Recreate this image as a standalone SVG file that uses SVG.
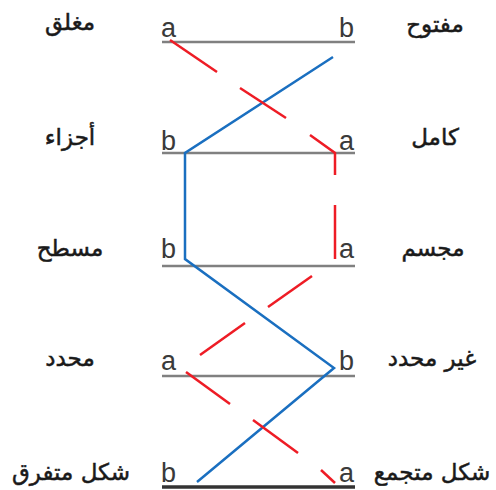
<svg xmlns="http://www.w3.org/2000/svg" width="496" height="490" viewBox="0 0 496 490">
<style>
.ar{font-family:"DejaVu Sans",sans-serif;font-size:23px;fill:#1a1a1a;stroke:#1a1a1a;stroke-width:0.5;text-anchor:middle}
.lt{font-family:"Liberation Sans",Arial,sans-serif;font-size:27px;fill:#3a3a3a}
.bar{stroke:#808080;stroke-width:2.5}
.barb{stroke:#333;stroke-width:3.5}
.blue{stroke:#1a6fc0;stroke-width:2.5;fill:none;stroke-linejoin:miter}
.red{stroke:#ee1c25;stroke-width:2.5;fill:none}
</style>
<rect width="496" height="490" fill="#fff"/>
<g id="row1">
<line class="bar" x1="162" y1="42" x2="355" y2="42"/>
<text class="lt" x="161" y="37">a</text>
<text class="lt" x="339" y="37">b</text>
<text class="ar" x="70" y="30">مغلق</text>
<text class="ar" x="435" y="32">مفتوح</text>
</g>
<g id="row2">
<line class="bar" x1="162" y1="153" x2="355" y2="153"/>
<text class="lt" x="161" y="150">b</text>
<text class="lt" x="339" y="150">a</text>
<text class="ar" x="70" y="145">أجزاء</text>
<text class="ar" x="435" y="145">كامل</text>
</g>
<g id="row3">
<line class="bar" x1="162" y1="266" x2="355" y2="266"/>
<text class="lt" x="161" y="258">b</text>
<text class="lt" x="339" y="258">a</text>
<text class="ar" x="70" y="256">مسطح</text>
<text class="ar" x="433" y="256">مجسم</text>
</g>
<g id="row4">
<line class="bar" x1="162" y1="376" x2="355" y2="376"/>
<text class="lt" x="161" y="370">a</text>
<text class="lt" x="339" y="370">b</text>
<text class="ar" x="70" y="366">محدد</text>
<text class="ar" x="432" y="366">غير محدد</text>
</g>
<g id="row5">
<line class="barb" x1="162" y1="487" x2="355" y2="487"/>
<text class="lt" x="161" y="482">b</text>
<text class="lt" x="339" y="482">a</text>
<text class="ar" x="71" y="480">شكل متفرق</text>
<text class="ar" x="432" y="480">شكل متجمع</text>
</g>
<g id="connectors">
<polyline class="blue" points="333,57 185,153 185,259 334,368 197,482"/>
<g class="red">
<line x1="170" y1="40" x2="217" y2="72"/>
<line x1="240" y1="88" x2="286" y2="118"/>
<polyline points="310,135 335,153 335,175"/>
<line x1="335" y1="205" x2="335" y2="259"/>
<line x1="312" y1="276" x2="268" y2="307"/>
<line x1="245" y1="323" x2="200" y2="355"/>
<line x1="186" y1="372" x2="230" y2="404"/>
<line x1="253" y1="420" x2="298" y2="453"/>
<line x1="321" y1="470" x2="335" y2="483"/>
</g>
</g>
</svg>
